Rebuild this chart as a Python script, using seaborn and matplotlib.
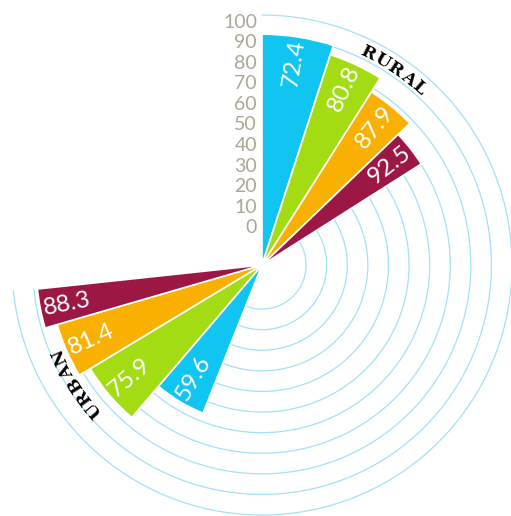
import numpy as np
import matplotlib
matplotlib.use("Agg")
import matplotlib.pyplot as plt
import matplotlib.transforms as mtransforms
from matplotlib.textpath import TextPath
from matplotlib.font_manager import FontProperties
import seaborn as sns

# data
bar_colors = ["#10c5f2", "#a3dc12", "#f9b000", "#9c1743"]

rural_labels = ["72.4", "80.8", "87.9", "92.5"]
rural_length = [90.7, 86.0, 78.0, 70.2]
rural_span = [18.0, 14.3, 13.9, 11.4]

urban_labels = ["59.6", "75.9", "81.4", "88.3"]
urban_length = [56.0, 76.0, 82.2, 88.3]
urban_span = [18.8, 18.4, 14.9, 10.1]

ring_values = list(range(0, 101, 10))
tick_labels = [str(v) for v in ring_values]

sns.set_theme(style="white")
plt.rcParams['font.family'] = ['Lato', 'DejaVu Sans']

r_min = -21.4
R_PX = 250.0  # pixels from centre to the 100 ring
fig = plt.figure(figsize=(5.11, 5.16), dpi=100)
ax = fig.add_axes([0.0235, 0.0019, 0.9785, 0.969], projection='polar')
ax.set_theta_zero_location('N')
ax.set_theta_direction(-1)
ax.set_ylim(r_min, 100)
ax.set_xticks([])
ax.set_yticks([])
ax.grid(False)
for sp in ax.spines.values():
    sp.set_visible(False)
ax.patch.set_alpha(0)

# rings
theta = np.radians(np.linspace(0, 264, 500))
for v in ring_values:
    ax.plot(theta, np.full_like(theta, v), color="#a3e1f7", lw=0.9,
            zorder=1, clip_on=False)


def draw_group(start, spans, lengths, labels, outward):
    edges = start + np.concatenate([[0], np.cumsum(spans)])
    mids = (edges[:-1] + edges[1:]) / 2
    ax.bar(np.radians(edges[:-1]), np.array(lengths) - r_min,
           width=np.radians(spans), bottom=r_min, align='edge',
           color=bar_colors, edgecolor='white', linewidth=1.2, zorder=2)
    for m, ln, lab in zip(mids, lengths, labels):
        rot = 90 - m if outward else 270 - m
        ax.text(np.radians(m), ln - 13, lab, rotation=rot,
                rotation_mode='anchor', ha='center', va='center',
                color='white', fontsize=17.5, fontweight='normal', zorder=3)


draw_group(0.0, rural_span, rural_length, rural_labels, True)
draw_group(201.7, urban_span, urban_length, urban_labels, False)

# radial tick labels
off = mtransforms.offset_copy(ax.transData, fig=fig, x=-5, y=-7, units='dots')
for v, lab in zip(ring_values, tick_labels):
    ax.text(0, v, lab, transform=off, ha='right', va='center',
            color="#aba797", fontsize=14, fontweight='normal')


def arc_text(text, centre, r, size=12.5, gap=2.0):
    prop = FontProperties(family='DejaVu Serif', weight='bold')
    px = size * 100 / 72
    widths = [TextPath((0, 0), ch, size=px, prop=prop).get_extents().width
              for ch in text]
    r_px = (r - r_min) / (100 - r_min) * R_PX
    pos = []
    acc = 0.0
    for w in widths:
        pos.append(acc + w / 2)
        acc += w + gap
    total = acc - gap
    for ch, p in zip(text, pos):
        th = centre + np.degrees((p - total / 2) / r_px)
        ax.text(np.radians(th), r, ch, rotation=-th, rotation_mode='anchor',
                ha='center', va='center', fontsize=size, fontweight='bold',
                family='DejaVu Serif', color='black', zorder=4)


arc_text("RURAL", 33.9, 93.4)
arc_text("URBAN", 237.5, 86.2)

fig.savefig('out.png', dpi=100)
